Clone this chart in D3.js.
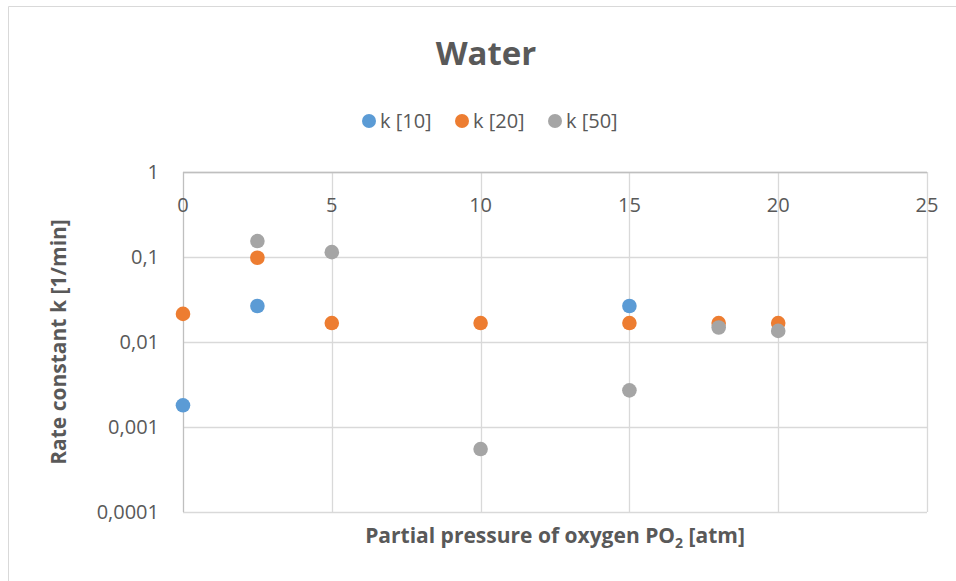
<!DOCTYPE html>
<html>
<head>
<meta charset="utf-8">
<script src="https://cdn.jsdelivr.net/npm/d3@7"></script>
<style>
  html, body { margin: 0; padding: 0; background: #fff; }
  svg text { font-family: "Open Sans", "Liberation Sans", sans-serif; fill: #595959; }
</style>
</head>
<body>
<svg id="chart" width="956" height="581"></svg>
<script>
// Rate constants measured in water at different oxygen partial pressures
const seriesNames = ["k [10]", "k [20]", "k [50]"];
const seriesColors = ["#5b9bd5", "#ed7d31", "#a5a5a5"];

const k10x = [0, 2.5, 15];
const k10y = [0.0018, 0.0265, 0.0265];

const k20x = [0, 2.5, 5, 10, 15, 18, 20];
const k20y = [0.0214, 0.098, 0.0167, 0.0167, 0.0167, 0.0167, 0.0167];

const k50x = [2.5, 5, 10, 15, 18, 20];
const k50y = [0.154, 0.114, 0.00055, 0.0027, 0.0148, 0.0135];

const xTicks = [0, 5, 10, 15, 20, 25];
const yTicks = [1, 0.1, 0.01, 0.001, 0.0001];
const yTickLabels = ["1", "0,1", "0,01", "0,001", "0,0001"];

const series = [
  { name: seriesNames[0], color: seriesColors[0], xs: k10x, ys: k10y },
  { name: seriesNames[1], color: seriesColors[1], xs: k20x, ys: k20y },
  { name: seriesNames[2], color: seriesColors[2], xs: k50x, ys: k50y }
];

const svg = d3.select("#chart");

// outer chart frame (top and left edges visible)
svg.append("line").attr("x1", 8.5).attr("x2", 956).attr("y1", 6.5).attr("y2", 6.5)
  .attr("stroke", "#d9d9d9").attr("stroke-width", 1);
svg.append("line").attr("x1", 8.5).attr("x2", 8.5).attr("y1", 6.5).attr("y2", 581)
  .attr("stroke", "#d9d9d9").attr("stroke-width", 1);

const plot = { left: 183, right: 927, top: 172, bottom: 512 };

const x = d3.scaleLinear().domain([0, 25]).range([plot.left, plot.right]);
const y = d3.scaleLog().domain([0.0001, 1]).range([plot.bottom, plot.top]);

// gridlines
const grid = svg.append("g");
grid.selectAll("line.h").data(yTicks).join("line")
  .attr("x1", plot.left).attr("x2", plot.right)
  .attr("y1", d => Math.round(y(d)) + 0.5).attr("y2", d => Math.round(y(d)) + 0.5)
  .attr("stroke", "#d9d9d9").attr("stroke-width", 1.3);
grid.selectAll("line.v").data(xTicks.slice(1)).join("line")
  .attr("x1", d => Math.round(x(d)) + 0.5).attr("x2", d => Math.round(x(d)) + 0.5)
  .attr("y1", plot.top).attr("y2", plot.bottom)
  .attr("stroke", "#d9d9d9").attr("stroke-width", 1.3);

// vertical axis line at x = 0
svg.append("line")
  .attr("x1", Math.round(x(0)) + 0.5).attr("x2", Math.round(x(0)) + 0.5)
  .attr("y1", plot.top).attr("y2", plot.bottom)
  .attr("stroke", "#bfbfbf").attr("stroke-width", 1.3);
// horizontal axis line at k = 1
svg.append("line")
  .attr("x1", plot.left).attr("x2", plot.right)
  .attr("y1", Math.round(y(1)) + 0.5).attr("y2", Math.round(y(1)) + 0.5)
  .attr("stroke", "#bfbfbf").attr("stroke-width", 1.3);

// x tick labels (drawn below the k = 1 line)
svg.append("g").selectAll("text").data(xTicks).join("text")
  .attr("x", d => x(d)).attr("y", 212)
  .attr("text-anchor", "middle")
  .style("font-size", "20px")
  .text(d => d);

// y tick labels
svg.append("g").selectAll("text").data(yTicks).join("text")
  .attr("x", 159).attr("y", d => y(d))
  .attr("dy", "0.35em")
  .attr("text-anchor", "end")
  .style("font-size", "20px")
  .text((d, i) => yTickLabels[i]);

// markers
series.forEach(s => {
  svg.append("g").selectAll("circle").data(s.xs.map((v, i) => [v, s.ys[i]])).join("circle")
    .attr("cx", d => x(d[0])).attr("cy", d => y(d[1]))
    .attr("r", 7.3)
    .attr("fill", s.color);
});

// title
svg.append("text")
  .attr("x", 486).attr("y", 65)
  .attr("text-anchor", "middle")
  .style("font-size", "33px").style("font-weight", "bold")
  .text("Water");

// legend
const legendX = [369, 462, 555];
const lg = svg.append("g");
series.forEach((s, i) => {
  lg.append("circle").attr("cx", legendX[i]).attr("cy", 121).attr("r", 7).attr("fill", s.color);
  lg.append("text").attr("x", legendX[i] + 11).attr("y", 121).attr("dy", "0.35em")
    .style("font-size", "20px").text(s.name);
});

// axis titles
svg.append("text")
  .attr("transform", `translate(66, ${(plot.top + plot.bottom) / 2}) rotate(-90)`)
  .attr("text-anchor", "middle")
  .style("font-size", "21px").style("font-weight", "bold")
  .text("Rate constant k [1/min]");

const xt = svg.append("text")
  .attr("x", (plot.left + plot.right) / 2).attr("y", 543)
  .attr("text-anchor", "middle")
  .style("font-size", "21px").style("font-weight", "bold");
xt.append("tspan").text("Partial pressure of oxygen PO");
xt.append("tspan").attr("dy", 5).style("font-size", "14px").text("2");
xt.append("tspan").attr("dy", -5).text(" [atm]");
</script>
</body>
</html>
